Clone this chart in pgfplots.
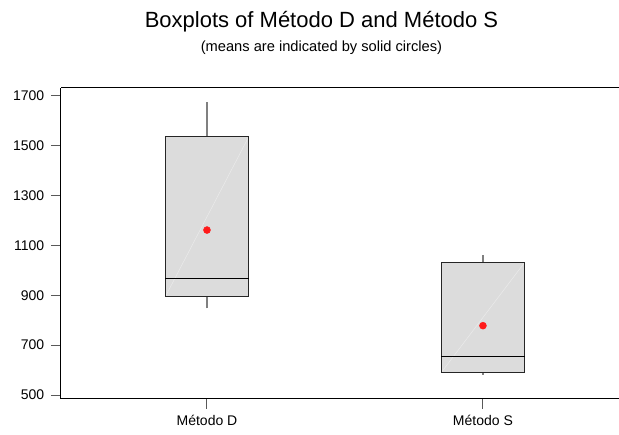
\documentclass[border=0pt]{standalone}
\usepackage{pgfplots}
\pgfplotsset{compat=1.18}
\usepackage{fontspec}
\setmainfont{Liberation Sans}

\definecolor{boxfill}{HTML}{DCDCDC}
\definecolor{whiskergray}{HTML}{808080}
\definecolor{meanred}{HTML}{FF1A1A}

\begin{document}
\begin{tikzpicture}
% 1 px = 0.75pt
\useasboundingbox (0,0) rectangle (464.25pt,326.25pt);

% titles
\node[anchor=base, inner sep=0pt, font=\fontsize{16.5}{19}\selectfont]
  at (241.1pt,305.5pt) {Boxplots of Método D and Método S};
\node[anchor=base, inner sep=0pt, font=\fontsize{11}{13}\selectfont]
  at (241.1pt,287.5pt) {(means are indicated by solid circles)};

\begin{axis}[
  at={(45.75pt,27pt)}, anchor=south west,
  scale only axis,
  width=418.5pt, height=233.25pt,
  xmin=0.471, xmax=2.493,
  ymin=484, ymax=1732,
  axis x line=box, axis y line=left,
  axis line style={-, line width=0.75pt, black},
  xtick={1,2}, xticklabels={Método D, Método S},
  xtick pos=lower,
  ytick={500,700,900,1100,1300,1500,1700},
  tick align=outside,
  major tick length=7.5pt,
  tick style={line width=0.75pt, black!65},
  ticklabel style={font=\fontsize{10.5}{12}\selectfont},
  yticklabel style={xshift=-1.5pt, /pgf/number format/1000 sep={}},
  xticklabel style={yshift=-1pt},
  /pgf/number format/assume math mode=true,
  clip=false,
]
% whiskers
\addplot[draw=whiskergray, line width=1pt] coordinates {(1,848) (1,893.4)};
\addplot[draw=whiskergray, line width=1pt] coordinates {(1,1536.7) (1,1677)};
\addplot[draw=whiskergray, line width=1pt] coordinates {(2,582) (2,589.6)};
\addplot[draw=whiskergray, line width=1pt] coordinates {(2,1032.6) (2,1062)};

% boxes (lower quartile to upper quartile)
\addplot[fill=boxfill, draw=none] coordinates
  {(0.8485,893.4) (1.1515,893.4) (1.1515,1536.7) (0.8485,1536.7)} -- cycle;
\addplot[fill=boxfill, draw=none] coordinates
  {(1.8485,589.6) (2.1515,589.6) (2.1515,1032.6) (1.8485,1032.6)} -- cycle;

% faint diagonal shading lines across the boxes
\addplot[draw=white, opacity=0.4, line width=0.4pt] coordinates {(0.8485,893.4) (1.1515,1536.7)};
\addplot[draw=white, opacity=0.4, line width=0.4pt] coordinates {(1.8485,589.6) (2.1515,1032.6)};

% box outlines
\addplot[draw=black!85, line width=0.75pt] coordinates
  {(0.8485,893.4) (1.1515,893.4) (1.1515,1536.7) (0.8485,1536.7)} -- cycle;
\addplot[draw=black!85, line width=0.75pt] coordinates
  {(1.8485,589.6) (2.1515,589.6) (2.1515,1032.6) (1.8485,1032.6)} -- cycle;

% medians
\addplot[draw=black, line width=0.75pt] coordinates {(0.8485,968.4) (1.1515,968.4)};
\addplot[draw=black, line width=0.75pt] coordinates {(1.8485,653.8) (2.1515,653.8)};

% means
\addplot[only marks, mark=*, mark size=2.6pt, color=meanred] coordinates {(1,1162) (2,778.2)};
\end{axis}
\end{tikzpicture}
\end{document}
